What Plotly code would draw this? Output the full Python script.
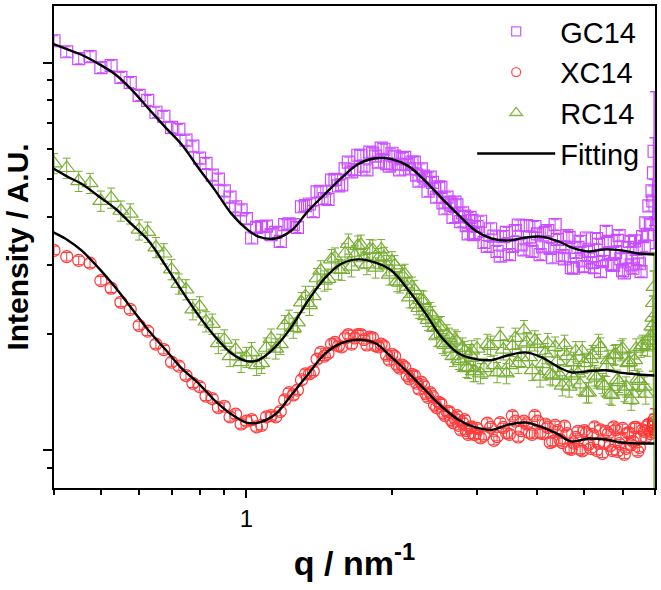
import math
import plotly.graph_objects as go

# ---------------- data ----------------
q = [0.400, 0.425, 0.450, 0.475, 0.500, 0.525, 0.550, 0.575, 0.600, 0.625,
     0.650, 0.675, 0.700, 0.725, 0.750, 0.775, 0.800, 0.825, 0.850, 0.875,
     0.900, 0.925, 0.950, 0.975,
     1.00, 1.05, 1.10, 1.15, 1.20, 1.25, 1.30, 1.35, 1.40, 1.45,
     1.50, 1.55, 1.60, 1.65, 1.70, 1.75, 1.80, 1.85, 1.90, 1.95,
     2.00, 2.05, 2.10, 2.15, 2.20, 2.25, 2.30, 2.35, 2.40, 2.45,
     2.50, 2.55, 2.60, 2.65, 2.70, 2.75, 2.80, 2.85, 2.90, 2.95,
     3.0, 3.1, 3.2, 3.3, 3.4, 3.5, 3.6, 3.7, 3.8, 3.9,
     4.0, 4.1, 4.2, 4.3, 4.4, 4.5, 4.6, 4.7, 4.8, 4.9,
     5.0, 5.1, 5.2, 5.3, 5.4, 5.5, 5.6, 5.7, 5.8, 5.9,
     6.0, 6.1, 6.2, 6.3, 6.4, 6.5, 6.6, 6.7, 6.8, 6.9]

gc14 = [11.39, 10.67, 10.24, 10.36, 9.71, 9.83, 9.16, 8.89, 8.23, 7.99,
        7.45, 7.27, 6.81, 6.73, 6.31, 6.09, 5.67, 5.50, 5.13, 5.01,
        4.67, 4.50, 4.25, 4.17, 3.96, 3.76, 3.79, 3.65, 3.82, 3.82,
        4.25, 4.32, 4.64, 4.46, 4.98, 4.81, 5.32, 5.23, 5.77, 5.41,
        5.88, 5.74, 6.02, 5.49, 5.84, 5.47, 5.67, 5.46, 5.54, 5.13,
        5.32, 5.04, 5.07, 4.73, 4.78, 4.35, 4.50, 4.30, 4.37, 4.01,
        4.10, 3.80, 3.99, 3.60, 3.78, 3.44, 3.73, 3.26, 3.56, 3.20,
        3.69, 3.39, 3.80, 3.26, 3.62, 3.35, 3.69, 3.14, 3.50, 3.18,
        3.58, 2.96, 3.24, 3.46, 2.98, 3.26, 3.05, 3.52, 2.89, 3.20,
        3.46, 3.02, 3.24, 3.58, 2.91, 3.14, 3.46, 2.95, 3.30, 3.03,
        3.56, 3.86, 4.27, 4.67]

xc14 = [3.28, 3.16, 3.09, 3.04, 2.74, 2.62, 2.41, 2.31, 2.10, 2.03,
        1.88, 1.82, 1.69, 1.65, 1.56, 1.49, 1.46, 1.38, 1.36, 1.29,
        1.30, 1.22, 1.24, 1.17, 1.19, 1.15, 1.22, 1.22, 1.35, 1.39,
        1.52, 1.575, 1.72, 1.75, 1.88, 1.86, 1.95, 1.88, 1.99, 1.93,
        1.96, 1.86, 1.88, 1.76, 1.77, 1.66, 1.66, 1.56, 1.57, 1.49,
        1.50, 1.40, 1.41, 1.31, 1.33, 1.25, 1.26, 1.20, 1.21, 1.16,
        1.18, 1.125, 1.146, 1.10, 1.14, 1.093, 1.146, 1.086, 1.146, 1.10,
        1.19, 1.125, 1.17, 1.10, 1.19, 1.105, 1.146, 1.055, 1.125, 1.048,
        1.105, 1.006, 1.08, 1.006, 1.125, 1.036, 1.10, 1.00, 1.13, 1.042,
        1.105, 1.00, 1.13, 1.042, 1.14, 1.012, 1.11, 1.055, 1.146, 1.018,
        1.13, 1.08, 1.17, 1.12]

rc14 = [5.50, 5.35, 4.95, 4.89, 4.40, 4.48, 4.15, 4.08, 3.71, 3.66,
        3.34, 3.22, 2.93, 2.69, 2.60, 2.31, 2.35, 2.15, 2.12, 1.89,
        1.93, 1.75, 1.82, 1.69, 1.74, 1.66, 1.84, 1.83, 2.10, 2.07,
        2.41, 2.37, 2.78, 2.74, 3.11, 2.93, 3.22, 2.98, 3.37, 3.13,
        3.30, 2.96, 3.30, 3.00, 3.07, 2.73, 2.83, 2.64, 2.64, 2.38,
        2.44, 2.22, 2.27, 2.07, 2.08, 1.89, 1.99, 1.83, 1.93, 1.72,
        1.84, 1.64, 1.77, 1.60, 1.83, 1.63, 1.86, 1.59, 1.82, 1.66,
        1.95, 1.74, 1.90, 1.61, 1.88, 1.67, 1.89, 1.56, 1.70, 1.47,
        1.75, 1.56, 1.80, 1.48, 1.68, 1.41, 1.76, 1.54, 1.84, 1.47,
        1.71, 1.39, 1.77, 1.50, 1.83, 1.46, 1.69, 1.40, 1.83, 1.51,
        1.87, 1.40, 1.92, 2.09]

# interleaved measurements (denser sampling at q > 1)
q_b = [1.025, 1.075, 1.125, 1.175, 1.225, 1.275, 1.325, 1.375, 1.425, 1.475,
       1.525, 1.575, 1.625, 1.675, 1.725, 1.775, 1.825, 1.875, 1.925, 1.975,
       2.025, 2.075, 2.125, 2.175, 2.225, 2.275, 2.325, 2.375, 2.425, 2.475,
       2.525, 2.575, 2.625, 2.675, 2.725, 2.775, 2.825, 2.875, 2.925, 2.975,
       3.05, 3.15, 3.25, 3.35, 3.45, 3.55, 3.65, 3.75, 3.85, 3.95,
       4.05, 4.15, 4.25, 4.35, 4.45, 4.55, 4.65, 4.75, 4.85, 4.95,
       5.05, 5.15, 5.25, 5.35, 5.45, 5.55, 5.65, 5.75, 5.85, 5.95,
       6.05, 6.15, 6.25, 6.35, 6.45, 6.55, 6.65, 6.75, 6.85]

gc14_b = [3.53, 3.78, 3.60, 3.46, 3.84, 3.76, 4.28, 4.13, 4.66, 4.44,
          5.00, 4.84, 5.54, 5.30, 5.77, 5.29, 5.84, 5.54, 5.98, 5.41,
          5.74, 5.29, 5.70, 5.32, 5.54, 4.95, 5.10, 4.66, 4.91, 4.50,
          4.77, 4.20, 4.37, 3.99, 4.30, 3.89, 4.02, 3.62, 3.92, 3.63,
          3.90, 3.36, 3.57, 3.17, 3.65, 3.36, 3.81, 3.29, 3.55, 3.78,
          3.20, 3.65, 3.32, 3.82, 3.35, 3.12, 3.54, 2.95, 3.34, 3.08,
          3.53, 3.13, 2.96, 3.40, 3.07, 3.67, 3.23, 3.00, 3.48, 3.12,
          2.87, 3.34, 3.01, 3.47, 3.11, 2.89, 3.36, 3.60, 3.82]

xc14_b = [1.20, 1.16, 1.23, 1.26, 1.41, 1.43, 1.575, 1.60, 1.79, 1.78,
          1.90, 1.85, 1.99, 1.95, 1.99, 1.87, 1.95, 1.85, 1.86, 1.71,
          1.75, 1.63, 1.64, 1.53, 1.56, 1.44, 1.47, 1.37, 1.38, 1.29,
          1.32, 1.23, 1.26, 1.18, 1.23, 1.13, 1.20, 1.10, 1.15, 1.10,
          1.077, 1.176, 1.061, 1.18, 1.11, 1.23, 1.083, 1.19, 1.11, 1.23,
          1.11, 1.17, 1.048, 1.16, 1.067, 1.155, 1.012, 1.045, 1.12, 0.997,
          1.11, 1.012, 1.15, 1.045, 0.983, 1.12, 1.027, 1.15, 0.994, 1.077,
          0.977, 1.11, 1.033, 1.146, 0.994, 1.08, 1.12, 1.16, 1.105]

rc14_b = [1.79, 1.68, 1.94, 1.88, 2.17, 2.14, 2.50, 2.50, 2.91, 2.77,
          3.14, 2.92, 3.41, 3.18, 3.39, 3.02, 3.29, 3.13, 3.15, 2.84,
          3.00, 2.71, 2.85, 2.48, 2.59, 2.33, 2.43, 2.17, 2.22, 1.97,
          2.09, 1.87, 1.95, 1.75, 1.91, 1.70, 1.80, 1.63, 1.81, 1.60,
          1.58, 1.88, 1.66, 1.96, 1.58, 1.86, 1.68, 2.04, 1.74, 1.92,
          1.55, 1.78, 1.57, 1.85, 1.56, 1.87, 1.46, 1.69, 1.58, 1.80,
          1.41, 1.72, 1.56, 1.88, 1.49, 1.65, 1.40, 1.76, 1.52, 1.81,
          1.42, 1.68, 1.35, 1.71, 1.53, 1.85, 1.46, 1.86, 1.97]

# last measured points of each curve (very large error bars)
q_last = [6.93, 6.95, 6.97]
gc14_last = [4.40, 5.20, 5.91]
gc14_last_up = [0.6, 1.2, 2.5]
gc14_last_dn = [0.6, 1.2, 2.6]
xc14_last = [1.15, 1.18, 1.20]
xc14_last_up = [0.05, 0.06, 0.08]
xc14_last_dn = [0.05, 0.06, 0.08]
rc14_last = [2.20, 2.40, 2.64]
rc14_last_up = [0.3, 0.5, 0.6]
rc14_last_dn = [0.6, 1.2, 1.9]

# fitted curves
q_fit = [0.397, 0.428, 0.456, 0.494, 0.536, 0.578, 0.627, 0.680, 0.734, 0.796,
         0.863, 0.931, 1.000, 1.059, 1.148, 1.239, 1.343, 1.456, 1.571, 1.704,
         1.849, 1.995, 2.163, 2.345, 2.531, 2.745, 2.976, 3.212, 3.483, 3.776,
         4.074, 4.418, 4.700, 5.094, 5.527, 5.966, 6.469, 6.980]
gc14_fit = [11.19, 10.80, 10.48, 9.94, 9.32, 8.53, 7.62, 6.81, 6.16, 5.35,
            4.67, 4.08, 3.73, 3.56, 3.52, 3.69, 4.15, 4.59, 5.04, 5.48,
            5.67, 5.64, 5.41, 4.95, 4.48, 4.05, 3.69, 3.52, 3.48, 3.54,
            3.56, 3.46, 3.34, 3.26, 3.30, 3.28, 3.22, 3.20]
xc14_fit = [3.66, 3.48, 3.28, 2.96, 2.63, 2.33, 2.04, 1.82, 1.63, 1.49,
            1.34, 1.24, 1.18, 1.18, 1.24, 1.39, 1.575, 1.78, 1.89, 1.93,
            1.89, 1.74, 1.585, 1.43, 1.30, 1.20, 1.146, 1.13, 1.166, 1.18,
            1.15, 1.10, 1.055, 1.073, 1.067, 1.048, 1.042, 1.042]
rc14_fit = [5.35, 5.07, 4.87, 4.53, 4.20, 3.84, 3.48, 3.00, 2.59, 2.23,
            1.96, 1.78, 1.70, 1.71, 1.85, 2.08, 2.44, 2.79, 3.03, 3.11,
            3.05, 2.91, 2.59, 2.26, 1.96, 1.78, 1.72, 1.71, 1.76, 1.79,
            1.74, 1.64, 1.59, 1.60, 1.61, 1.585, 1.57, 1.56]

x_major = [1]
x_major_text = ["1"]
x_minor = [0.4, 0.5, 0.6, 0.7, 0.8, 0.9, 2, 3, 4, 5, 6, 7]
y_major = [1, 10]
y_minor = [0.9, 2, 3, 4, 5, 6, 7, 8, 9]

# ---------------- styling ----------------
VIOLET = "#c02eff"
RED = "#ff1a1a"
GREEN = "#62a012"
FONT = "Liberation Sans, Arial, sans-serif"

fig = go.Figure()

series = [
    ("GC14", gc14, gc14_b, gc14_last, gc14_last_up, gc14_last_dn, VIOLET, "square-open", 12, 3),
    ("XC14", xc14, xc14_b, xc14_last, xc14_last_up, xc14_last_dn, RED, "circle-open", 12, 2.5),
    ("RC14", rc14, rc14_b, rc14_last, rc14_last_up, rc14_last_dn, GREEN, "triangle-up-open", 14, 6),
]

for name, vals, vals_b, last, up, dn, col, sym, size, pct in series:
    fig.add_trace(go.Scatter(
        x=q + q_b, y=vals + vals_b, mode="markers", name=name, opacity=0.85,
        showlegend=False, legendgroup=name,
        marker=dict(symbol=sym, size=size, color=col, line=dict(width=1.2, color=col)),
        error_y=dict(type="percent", value=pct, color=col, thickness=1, width=4),
    ))
for name, vals, vals_b, last, up, dn, col, sym, size, pct in series:
    fig.add_trace(go.Scatter(
        x=q_last, y=last, mode="markers", showlegend=False, opacity=0.85,
        legendgroup=name,
        marker=dict(symbol=sym, size=size, color=col, line=dict(width=1.2, color=col)),
        error_y=dict(type="data", array=up, arrayminus=dn, symmetric=False,
                     color=col, thickness=1.5, width=4),
    ))

for i, fit in enumerate([gc14_fit, xc14_fit, rc14_fit]):
    fig.add_trace(go.Scatter(
        x=q_fit, y=fit, mode="lines", name="Fitting", showlegend=False,
        legendgroup="Fitting",
        line=dict(color="black", width=2.4, shape="spline", smoothing=1.0),
    ))

# legend entries (smaller symbols, as in the original legend)
for name, vals, vals_b, last, up, dn, col, sym, size, pct in series:
    fig.add_trace(go.Scatter(
        x=[None], y=[None], mode="markers", name=name, legendgroup=name,
        opacity=0.75,
        marker=dict(symbol=sym, size=size - 3, color=col, line=dict(width=1.3, color=col)),
    ))
fig.add_trace(go.Scatter(
    x=[None], y=[None], mode="lines", name="Fitting", legendgroup="Fitting",
    line=dict(color="black", width=2.4),
))

fig.update_layout(
    width=661, height=590,
    margin=dict(l=54, r=5, t=4, b=102),
    paper_bgcolor="white", plot_bgcolor="white",
    font=dict(family=FONT, color="black"),
    showlegend=True,
    legend=dict(
        x=0.982, xanchor="right", y=1.0, yanchor="top",
        bgcolor="rgba(0,0,0,0)", font=dict(size=29, family=FONT),
        itemwidth=78, tracegroupgap=0,
    ),
)

fig.update_xaxes(
    type="log", range=[math.log10(0.4), math.log10(7.0)],
    tickmode="array", tickvals=x_major, ticktext=x_major_text,
    ticks="outside", ticklen=8, tickwidth=1.5, tickcolor="black",
    tickfont=dict(size=24, family=FONT),
    minor=dict(tickmode="array", tickvals=x_minor, ticks="outside",
               ticklen=5, tickwidth=1.5, tickcolor="black", showgrid=False),
    showline=True, mirror=True, linewidth=1.8, linecolor="black",
    showgrid=False, zeroline=False,
    title=dict(text="<b>q / nm<sup>-1</sup></b>", font=dict(size=34, family=FONT), standoff=20),
)
fig.update_yaxes(
    type="log", range=[math.log10(0.8), math.log10(14.0)],
    tickmode="array", tickvals=y_major, showticklabels=False,
    ticks="outside", ticklen=9, tickwidth=1.5, tickcolor="black",
    minor=dict(tickmode="array", tickvals=y_minor, ticks="outside",
               ticklen=5, tickwidth=1.5, tickcolor="black", showgrid=False),
    showline=True, mirror=True, linewidth=1.8, linecolor="black",
    showgrid=False, zeroline=False,
    title=dict(text="<b>Intensity / A.U.</b>", font=dict(size=30, family=FONT), standoff=6),
)

fig.write_html("out.html")
